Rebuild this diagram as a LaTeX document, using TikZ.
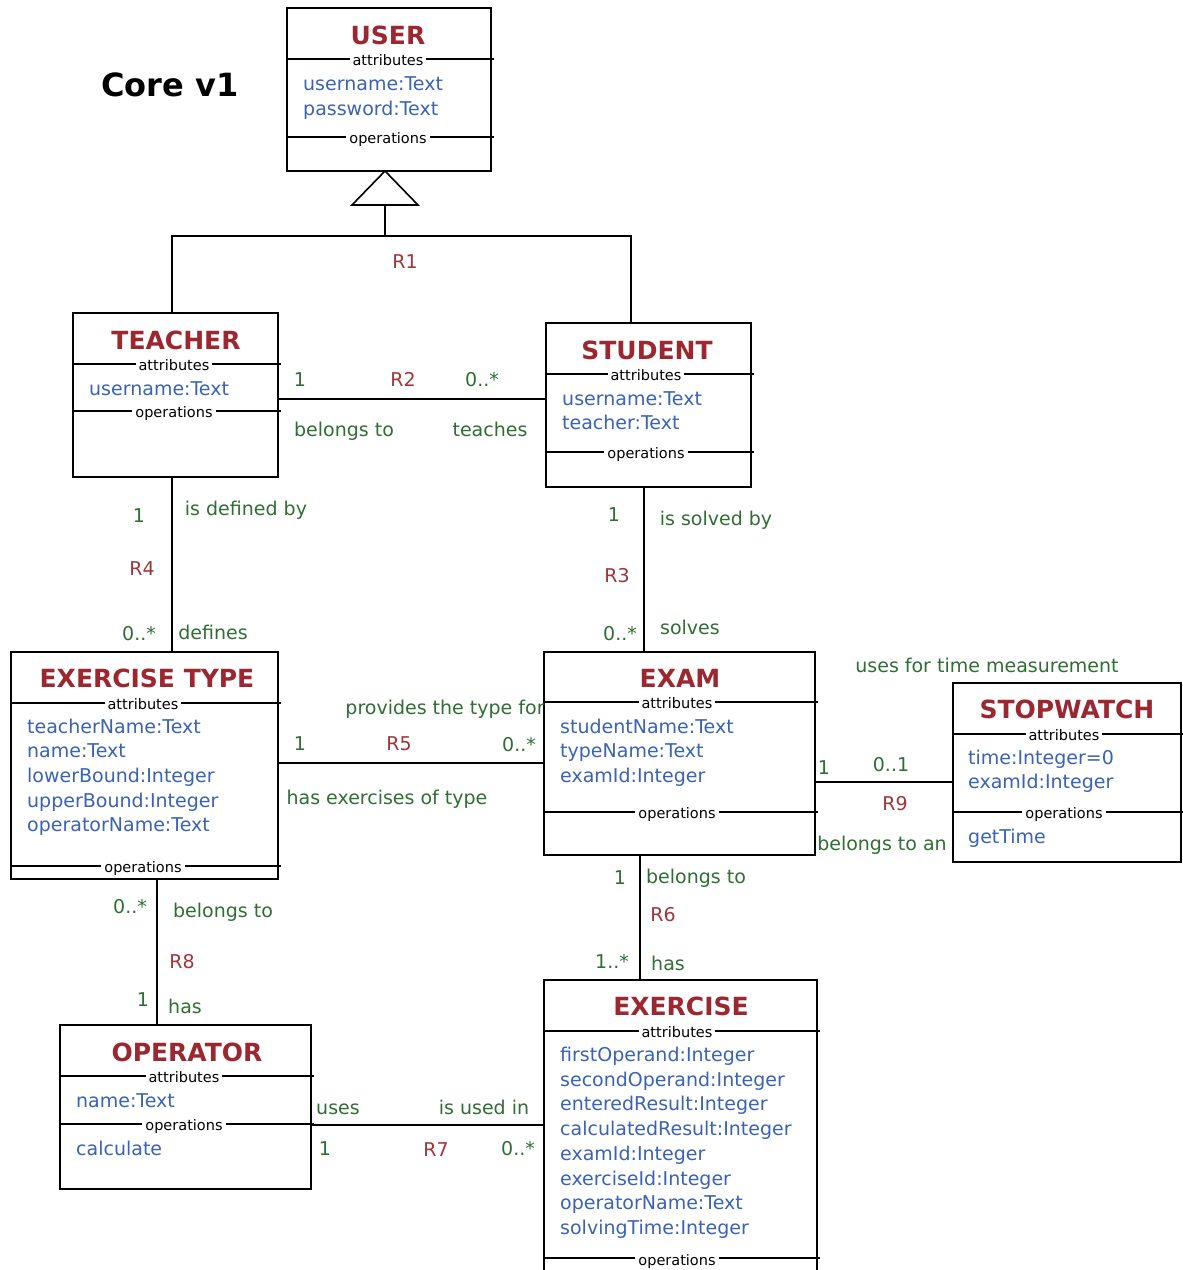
\documentclass[tikz,border=0pt]{standalone}
\usepackage{fontspec}
\setmainfont{DejaVu Sans}
\definecolor{ttlred}{HTML}{9B2830}
\definecolor{relred}{HTML}{A0363C}
\definecolor{attrblue}{HTML}{3A62B5}
\definecolor{lblgreen}{HTML}{2F6E34}
\tikzset{
  cls/.style={draw, line width=1.7pt, inner sep=0pt, outer sep=0pt, anchor=north west, fill=none},
  sepline/.style={line width=1.6pt},
  conn/.style={line width=1.6pt},
  ttl/.style={font=\bfseries\fontsize{25}{30}\selectfont, text=ttlred, inner sep=0pt, text height=18pt, text depth=0pt},
  attr/.style={font=\fontsize{19}{22}\selectfont, text=attrblue, anchor=west, inner sep=0pt, text height=14pt, text depth=4pt},
  sec/.style={font=\fontsize{14.5}{16}\selectfont, fill=white, inner xsep=3pt, inner ysep=0pt, text height=10pt, text depth=3pt},
  lbl/.style={font=\fontsize{19}{22}\selectfont, text=lblgreen, inner sep=0pt, text height=14pt, text depth=4pt},
  rel/.style={font=\fontsize{19}{22}\selectfont, text=relred, inner sep=0pt, text height=14pt, text depth=4pt},
}
\begin{document}
\begin{tikzpicture}[x=1pt, y=-1pt]
\useasboundingbox (0,0) rectangle (1183,1270);
\clip (0,0) rectangle (1183,1270);
\fill[white] (0,0) rectangle (1183,1270);

% title
\node[font=\bfseries\fontsize{32}{38}\selectfont, inner sep=0pt, text height=23pt, text depth=0pt] (coretitle) at (170,85) {Core v1};

% ---------- USER ----------
\node[cls, minimum width=204pt, minimum height=163pt] (user) at (287,8) {};
\node[ttl] (userT) at (388,35) {USER};
\draw[sepline] (287,59) -- (494,59);
\node[sec] (userA) at (388,62) {attributes};
\node[attr] (userA1) at (303,85) {username:Text};
\node[attr] (userA2) at (303,110) {password:Text};
\draw[sepline] (287,137) -- (494,137);
\node[sec] (userO) at (388,140) {operations};

% ---------- TEACHER ----------
\node[cls, minimum width=205pt, minimum height=164pt] (teacher) at (73,313) {};
\node[ttl] (teacherT) at (176,340) {TEACHER};
\draw[sepline] (73,364) -- (281,364);
\node[sec] (teacherA) at (174,367) {attributes};
\node[attr] (teacherA1) at (89,390) {username:Text};
\draw[sepline] (73,411) -- (281,411);
\node[sec] (teacherO) at (174,414) {operations};

% ---------- STUDENT ----------
\node[cls, minimum width=205pt, minimum height=164pt] (student) at (546,323) {};
\node[ttl] (studentT) at (647,350) {STUDENT};
\draw[sepline] (546,374) -- (754,374);
\node[sec] (studentA) at (646,377) {attributes};
\node[attr] (studentA1) at (562,400) {username:Text};
\node[attr] (studentA2) at (562,424) {teacher:Text};
\draw[sepline] (546,452) -- (754,452);
\node[sec] (studentO) at (646,455) {operations};

% ---------- EXERCISE TYPE ----------
\node[cls, minimum width=267pt, minimum height=227pt] (extype) at (11,652) {};
\node[ttl] (extypeT) at (147,678) {EXERCISE TYPE};
\draw[sepline] (11,703) -- (281,703);
\node[sec] (extypeA) at (143,706) {attributes};
\node[attr] (extypeA1) at (27,728) {teacherName:Text};
\node[attr] (extypeA2) at (27,752) {name:Text};
\node[attr] (extypeA3) at (27,777) {lowerBound:Integer};
\node[attr] (extypeA4) at (27,802) {upperBound:Integer};
\node[attr] (extypeA5) at (27,826) {operatorName:Text};
\draw[sepline] (11,866) -- (281,866);
\node[sec] (extypeO) at (143,869) {operations};

% ---------- EXAM ----------
\node[cls, minimum width=271pt, minimum height=203pt] (exam) at (544,652) {};
\node[ttl] (examT) at (680,678) {EXAM};
\draw[sepline] (544,702) -- (818,702);
\node[sec] (examA) at (677,705) {attributes};
\node[attr] (examA1) at (560,728) {studentName:Text};
\node[attr] (examA2) at (560,752) {typeName:Text};
\node[attr] (examA3) at (560,777) {examId:Integer};
\draw[sepline] (544,812) -- (818,812);
\node[sec] (examO) at (677,815) {operations};

% ---------- STOPWATCH ----------
\node[cls, minimum width=228pt, minimum height=179pt] (stopwatch) at (953,683) {};
\node[ttl] (stopwatchT) at (1067,709) {STOPWATCH};
\draw[sepline] (953,734) -- (1184,734);
\node[sec] (stopwatchA) at (1064,737) {attributes};
\node[attr] (stopwatchA1) at (968,759) {time:Integer=0};
\node[attr] (stopwatchA2) at (968,783) {examId:Integer};
\draw[sepline] (953,812) -- (1184,812);
\node[sec] (stopwatchO) at (1064,815) {operations};
\node[attr] (stopwatchO1) at (968,838) {getTime};

% ---------- EXERCISE ----------
\node[cls, minimum width=273pt, minimum height=320pt] (exercise) at (544,980) {};
\node[ttl] (exerciseT) at (681,1006) {EXERCISE};
\draw[sepline] (544,1031) -- (820,1031);
\node[sec] (exerciseA) at (677,1034) {attributes};
\node[attr] (exerciseA1) at (560,1056) {firstOperand:Integer};
\node[attr] (exerciseA2) at (560,1081) {secondOperand:Integer};
\node[attr] (exerciseA3) at (560,1105) {enteredResult:Integer};
\node[attr] (exerciseA4) at (560,1130) {calculatedResult:Integer};
\node[attr] (exerciseA5) at (560,1155) {examId:Integer};
\node[attr] (exerciseA6) at (560,1180) {exerciseId:Integer};
\node[attr] (exerciseA7) at (560,1204) {operatorName:Text};
\node[attr] (exerciseA8) at (560,1229) {solvingTime:Integer};
\draw[sepline] (544,1258) -- (820,1258);
\node[sec] (exerciseO) at (677,1262) {operations};

% ---------- OPERATOR ----------
\node[cls, minimum width=251pt, minimum height=164pt] (operator) at (60,1025) {};
\node[ttl] (operatorT) at (187,1052) {OPERATOR};
\draw[sepline] (60,1076) -- (314,1076);
\node[sec] (operatorA) at (184,1079) {attributes};
\node[attr] (operatorA1) at (76,1102) {name:Text};
\draw[sepline] (60,1124) -- (314,1124);
\node[sec] (operatorO) at (184,1127) {operations};
\node[attr] (operatorO1) at (76,1150) {calculate};

% ---------- R1 generalisation ----------
\coordinate (gapex) at ([xshift=-4pt]user.south);
\draw[conn, fill=white, line join=miter] (gapex) -- ++(-33,34) -- ++(66,0) -- cycle;
\coordinate (gbase) at ([yshift=-34pt]gapex);
\coordinate (r1j) at (gbase |- 0,236);
\draw[conn] (gbase) -- (r1j);
\coordinate (r1t) at ([xshift=-3.5pt]teacher.north);
\coordinate (r1s) at ([xshift=-17.5pt]student.north);
\draw[conn] (r1t) |- (r1j) -| (r1s);
\node[rel] (R1) at (405,263) {R1};

% ---------- R2 ----------
\coordinate (r2a) at ([yshift=-4pt]teacher.east);
\draw[conn] (r2a) -- (r2a -| student.west);
\node[lbl] (r2m1) at (300,381) {1};
\node[rel] (R2) at (403,381) {R2};
\node[lbl] (r2m2) at (482,381) {0..*};
\node[lbl] (r2p1) at (344,431) {belongs to};
\node[lbl] (r2p2) at (490,431) {teaches};

% ---------- R4 ----------
\coordinate (r4a) at ([xshift=-3.5pt]teacher.south);
\draw[conn] (r4a) -- (r4a |- extype.north);
\node[lbl] (r4m1) at (139,517) {1};
\node[lbl] (r4p1) at (246,510) {is defined by};
\node[rel] (R4) at (142,570) {R4};
\node[lbl] (r4m2) at (139,635) {0..*};
\node[lbl] (r4p2) at (213,634) {defines};

% ---------- R3 ----------
\coordinate (r3a) at ([xshift=-4.5pt]student.south);
\draw[conn] (r3a) -- (r3a |- exam.north);
\node[lbl] (r3m1) at (614,516) {1};
\node[lbl] (r3p1) at (716,520) {is solved by};
\node[rel] (R3) at (617,577) {R3};
\node[lbl] (r3m2) at (620,635) {0..*};
\node[lbl] (r3p2) at (690,629) {solves};

% ---------- R5 ----------
\coordinate (r5a) at ([yshift=2.5pt]extype.east);
\draw[conn] (r5a) -- (r5a -| exam.west);
\node[lbl] (r5p1) at (445,709) {provides the type for};
\node[lbl] (r5m1) at (300,745) {1};
\node[rel] (R5) at (399,745) {R5};
\node[lbl] (r5m2) at (519,746) {0..*};
\node[lbl] (r5p2) at (387,799) {has exercises of type};

% ---------- R9 ----------
\coordinate (r9a) at ([yshift=-9.5pt]stopwatch.west);
\draw[conn] (r9a -| exam.east) -- (r9a);
\node[lbl] (r9p1) at (987,667) {uses for time measurement};
\node[lbl] (r9m1) at (824,769) {1};
\node[lbl] (r9m2) at (891,766) {0..1};
\node[rel] (R9) at (895,805) {R9};
\node[lbl] (r9p2) at (882,845) {belongs to an};

% ---------- R6 ----------
\coordinate (r6a) at ([xshift=-39.5pt]exam.south);
\draw[conn] (r6a) -- (r6a |- exercise.north);
\node[lbl] (r6m1) at (620,879) {1};
\node[lbl] (r6p1) at (696,878) {belongs to};
\node[rel] (R6) at (663,916) {R6};
\node[lbl] (r6m2) at (612,963) {1..*};
\node[lbl] (r6p2) at (668,965) {has};

% ---------- R8 ----------
\coordinate (r8a) at ([xshift=12.5pt]extype.south);
\draw[conn] (r8a) -- (r8a |- operator.north);
\node[lbl] (r8m1) at (130,908) {0..*};
\node[lbl] (r8p1) at (223,912) {belongs to};
\node[rel] (R8) at (182,963) {R8};
\node[lbl] (r8m2) at (143,1001) {1};
\node[lbl] (r8p2) at (185,1008) {has};

% ---------- R7 ----------
\coordinate (r7a) at ([yshift=-18pt]operator.east);
\draw[conn] (r7a) -- (r7a -| exercise.west);
\node[lbl] (r7p1) at (338,1109) {uses};
\node[lbl] (r7p2) at (484,1109) {is used in};
\node[lbl] (r7m1) at (325,1150) {1};
\node[rel] (R7) at (436,1151) {R7};
\node[lbl] (r7m2) at (518,1150) {0..*};
\end{tikzpicture}
\end{document}
